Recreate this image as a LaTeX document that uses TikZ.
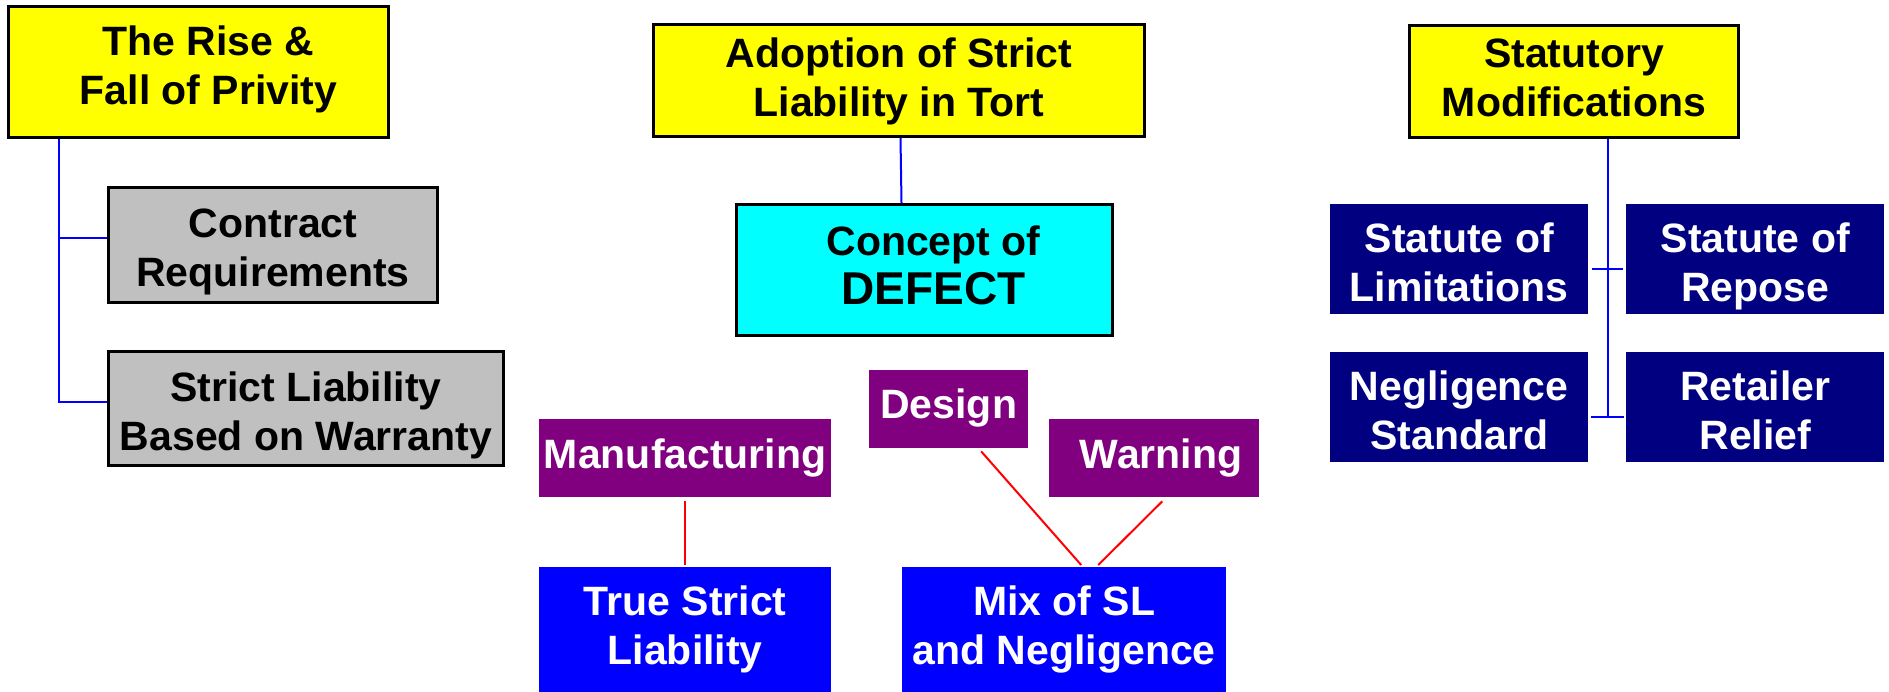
\documentclass[tikz,border=0pt]{standalone}
\usepackage{fontspec}
\setmainfont{Liberation Sans}
\usetikzlibrary{calc}
\definecolor{cyellow}{HTML}{FFFF00}
\definecolor{cgray}{HTML}{C0C0C0}
\definecolor{ccyan}{HTML}{00FFFF}
\definecolor{cpurple}{HTML}{800080}
\definecolor{cblue}{HTML}{0000FF}
\definecolor{cnavy}{HTML}{000080}
\definecolor{cred}{HTML}{FF0000}
\newcommand{\diagfont}{\fontsize{41}{49}\selectfont\bfseries}
% #1 = downward shift of the text, #2 = rows
\newcommand{\boxtext}[2][0pt]{\raisebox{-#1}[\height][\depth]{\begin{tabular}{@{}c@{}}#2\end{tabular}}}
\begin{document}
\begin{tikzpicture}[x=1pt,y=-1pt,
  base/.style={inner sep=0pt, font=\diagfont, anchor=north west},
  ybox/.style={base, fill=cyellow, draw=black, line width=3pt},
  gbox/.style={base, fill=cgray, draw=black, line width=3pt},
  cbox/.style={base, fill=ccyan, draw=black, line width=3pt},
  pbox/.style={base, fill=cpurple, text=white},
  bbox/.style={base, fill=cblue, text=white},
  nbox/.style={base, fill=cnavy, text=white},
  blueline/.style={draw=cblue, line width=2pt},
  redline/.style={draw=cred, line width=2pt}]
\useasboundingbox (0,0) rectangle (1889,692);
\fill[white] (0,0) rectangle (1889,692);
% left column
\node[ybox, minimum width=380pt, minimum height=131pt] (privity) at (7,5) {\hspace*{20pt}\boxtext[-1.5pt]{The Rise \&\\Fall of Privity}};
\node[gbox, minimum width=329pt, minimum height=115pt] (contract) at (107,186) {\boxtext[7pt]{Contract\\Requirements}};
\node[gbox, minimum width=395pt, minimum height=114pt] (warranty) at (107,350) {\boxtext[7.5pt]{Strict Liability\\Based on Warranty}};
% middle column
\node[ybox, minimum width=491pt, minimum height=112pt] (adoption) at (652,23) {\boxtext[2pt]{Adoption of Strict\\Liability in Tort}};
\node[cbox, minimum width=376pt, minimum height=131pt] (concept) at (735,203) {\hspace*{18pt}\boxtext{Concept of\\{\fontsize{46}{49}\selectfont DEFECT}}};
\node[pbox, minimum width=159pt, minimum height=78pt] (design) at (869,370) {\boxtext{Design}};
\node[pbox, minimum width=292pt, minimum height=78pt] (manuf) at (539,419) {\boxtext{Manufacturing}};
\node[pbox, minimum width=210pt, minimum height=78pt] (warning) at (1049,419) {\hspace*{14pt}\boxtext{Warning}};
\node[bbox, minimum width=292pt, minimum height=126pt] (truesl) at (539,567) {\boxtext{True Strict\\Liability}};
\node[bbox, minimum width=324pt, minimum height=126pt] (mix) at (902,567) {\boxtext{Mix of SL\\and Negligence}};
% right column
\node[ybox, minimum width=329pt, minimum height=112pt] (statutory) at (1408,24) {\boxtext[1pt]{Statutory\\Modifications}};
\node[nbox, minimum width=258pt, minimum height=110pt] (limitations) at (1330,204) {\boxtext[8pt]{Statute of\\Limitations}};
\node[nbox, minimum width=258pt, minimum height=110pt] (repose) at (1626,204) {\boxtext[8pt]{Statute of\\Repose}};
\node[nbox, minimum width=258pt, minimum height=110pt] (negligence) at (1330,352) {\boxtext[8pt]{Negligence\\Standard}};
\node[nbox, minimum width=258pt, minimum height=110pt] (retailer) at (1626,352) {\boxtext[8pt]{Retailer\\Relief}};
% connectors left
\coordinate (pj) at ($(privity.south west)+(52,0)$);
\draw[blueline] (pj) |- ($(warranty.west)+(0,-7)$);
\draw[blueline] ($(pj |- contract.west)+(0,-7)$) -- ($(contract.west)+(0,-7)$);
% connectors middle
\draw[blueline] ($(adoption.south)+(1.5,0)$) -- ($(adoption.south |- concept.north)+(2.5,0)$);
\draw[redline] ([yshift=-4pt]manuf.south) -- ([yshift=2pt]truesl.north);
\draw[redline] ($(design.south)+(32.5,3)$) -- ($(mix.north)+(17,-2)$);
\draw[redline] ($(warning.south)+(8,4)$) -- ($(mix.north)+(34,-2)$);
% connectors right
\coordinate (st) at ($(limitations.east)!0.5!(repose.west)$);
\draw[blueline] ($(statutory.south -| st)+(1,0)$) -- ($(st |- negligence.east)+(1,9.5)$);
\draw[blueline] ($(limitations.east)+(4,9.5)$) -- ($(repose.west)+(-3,9.5)$);
\draw[blueline] ($(negligence.east)+(3,9.5)$) -- ($(retailer.west)+(-2,9.5)$);
\end{tikzpicture}
\end{document}
